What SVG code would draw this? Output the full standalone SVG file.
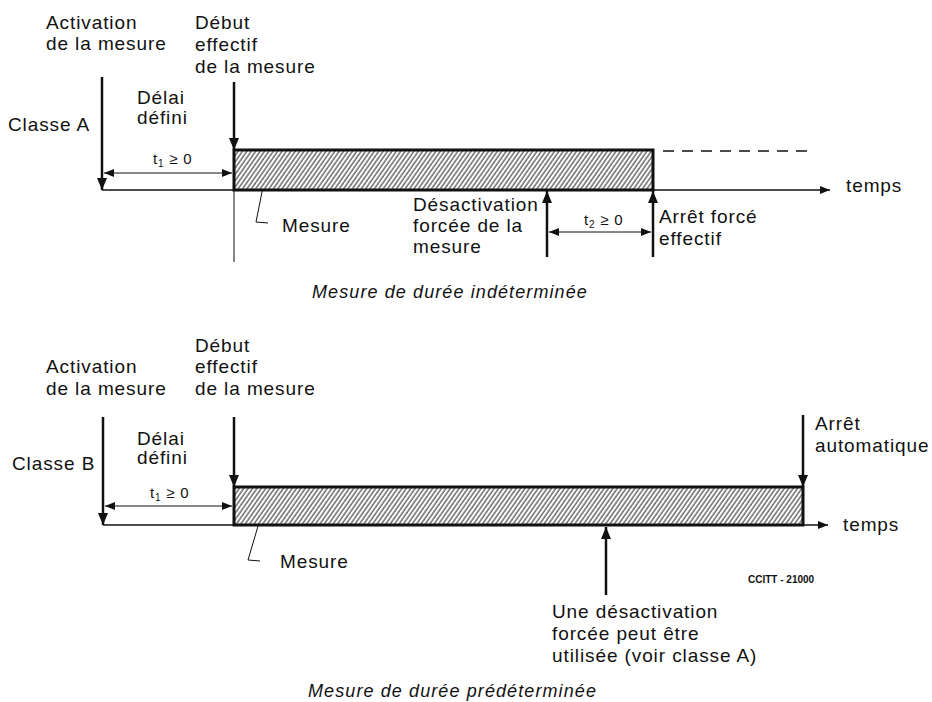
<svg xmlns="http://www.w3.org/2000/svg" width="932" height="702" viewBox="0 0 932 702">
<style>
.t{font-family:"Liberation Sans",Arial,sans-serif;font-size:19px;letter-spacing:0.9px;fill:#111}
.s{font-family:"Liberation Sans",Arial,sans-serif;font-size:15px;letter-spacing:0.8px;fill:#111}
.cap{font-family:"Liberation Sans",Arial,sans-serif;font-size:18px;font-style:italic;letter-spacing:1.1px;fill:#111}
.code{font-family:"Liberation Sans",Arial,sans-serif;font-size:10px;font-weight:bold;fill:#111}
.v{stroke:#111;stroke-width:2.5;fill:none}
.ax{stroke:#111;stroke-width:1.6;fill:none}
.thin{stroke:#111;stroke-width:1;fill:none}
.box{stroke:#111;stroke-width:3;fill:url(#hatch)}
</style>
<defs>
<pattern id="hatch" patternUnits="userSpaceOnUse" width="3.6" height="4" patternTransform="rotate(35)">
<rect width="3.6" height="4" fill="#fff"/>
<line x1="1" y1="0" x2="1" y2="4" stroke="#222" stroke-width="1"/>
</pattern>
<marker id="a" markerUnits="userSpaceOnUse" markerWidth="10" markerHeight="8" refX="10" refY="4" orient="auto-start-reverse">
<path d="M0,0 L10,4 L0,8 z" fill="#111"/>
</marker>
<marker id="b" markerUnits="userSpaceOnUse" markerWidth="12" markerHeight="10" refX="12" refY="5" orient="auto-start-reverse">
<path d="M0,0 L12,5 L0,10 z" fill="#111"/>
</marker>
</defs>

<g id="connectors">
<line class="v" x1="102" y1="77" x2="102" y2="190" marker-end="url(#b)"/>
<line class="v" x1="234" y1="82" x2="234" y2="150" marker-end="url(#b)"/>
<line class="ax" x1="102" y1="190" x2="830" y2="190" marker-end="url(#a)"/>
<line class="thin" x1="234" y1="190" x2="234" y2="262"/>
<line class="ax" x1="663" y1="151" x2="808" y2="151" stroke-dasharray="11,8"/>
<line class="thin" x1="104" y1="173" x2="232" y2="173" marker-start="url(#a)" marker-end="url(#a)"/>
<line class="v" x1="547" y1="257" x2="547" y2="191" marker-end="url(#b)"/>
<line class="v" x1="653" y1="257" x2="653" y2="191" marker-end="url(#b)"/>
<line class="thin" x1="549" y1="232" x2="651" y2="232" marker-start="url(#a)" marker-end="url(#a)"/>
<polyline class="thin" points="264,182 256,222 268,223"/>
<path d="M265,176 L261,184 L268,184 z" fill="#111"/>
<line class="v" x1="103" y1="417" x2="103" y2="525" marker-end="url(#b)"/>
<line class="v" x1="234" y1="417" x2="234" y2="487" marker-end="url(#b)"/>
<line class="v" x1="803" y1="415" x2="803" y2="487" marker-end="url(#b)"/>
<line class="ax" x1="103" y1="525" x2="828" y2="525" marker-end="url(#a)"/>
<line class="thin" x1="105" y1="506" x2="232" y2="506" marker-start="url(#a)" marker-end="url(#a)"/>
<line class="v" x1="606" y1="595" x2="606" y2="527" marker-end="url(#b)"/>
<polyline class="thin" points="261,516 248,560 260,561"/>
<path d="M262,510 L258,518 L265,518 z" fill="#111"/>
</g>

<g id="measure-a"><rect class="box" x="234" y="150" width="419" height="40"/></g>
<g id="measure-b"><rect class="box" x="234" y="487" width="569" height="38"/></g>

<g id="labels-a">
<text class="t" x="46" y="29">Activation</text>
<text class="t" x="46" y="50">de la mesure</text>
<text class="t" x="195" y="29">Début</text>
<text class="t" x="195" y="51">effectif</text>
<text class="t" x="195" y="73">de la mesure</text>
<text class="t" x="137" y="104">Délai</text>
<text class="t" x="137" y="124">défini</text>
<text class="t" x="8" y="131">Classe  A</text>
<text class="s" x="153" y="164">t<tspan font-size="10" dy="3">1</tspan><tspan dy="-3"> ≥ 0</tspan></text>
<text class="t" x="282" y="232">Mesure</text>
<text class="t" x="413" y="211">Désactivation</text>
<text class="t" x="413" y="232">forcée de la</text>
<text class="t" x="413" y="253">mesure</text>
<text class="s" x="584" y="225">t<tspan font-size="10" dy="3">2</tspan><tspan dy="-3"> ≥ 0</tspan></text>
<text class="t" x="659" y="223">Arrêt forcé</text>
<text class="t" x="659" y="245">effectif</text>
<text class="t" x="846" y="192">temps</text>
<text class="cap" x="312" y="298">Mesure de durée indéterminée</text>
</g>

<g id="labels-b">
<text class="t" x="46" y="373">Activation</text>
<text class="t" x="46" y="395">de la mesure</text>
<text class="t" x="195" y="352">Début</text>
<text class="t" x="195" y="373">effectif</text>
<text class="t" x="195" y="395">de la mesure</text>
<text class="t" x="137" y="445">Délai</text>
<text class="t" x="137" y="464">défini</text>
<text class="t" x="12" y="470">Classe  B</text>
<text class="s" x="150" y="498">t<tspan font-size="10" dy="3">1</tspan><tspan dy="-3"> ≥ 0</tspan></text>
<text class="t" x="280" y="568">Mesure</text>
<text class="t" x="815" y="430">Arrêt</text>
<text class="t" x="815" y="452">automatique</text>
<text class="t" x="843" y="531">temps</text>
<text class="code" x="748" y="583">CCITT - 21000</text>
<text class="t" x="552" y="618">Une désactivation</text>
<text class="t" x="552" y="640">forcée peut être</text>
<text class="t" x="552" y="662">utilisée (voir classe A)</text>
<text class="cap" x="308" y="697">Mesure de durée prédéterminée</text>
</g>
</svg>
